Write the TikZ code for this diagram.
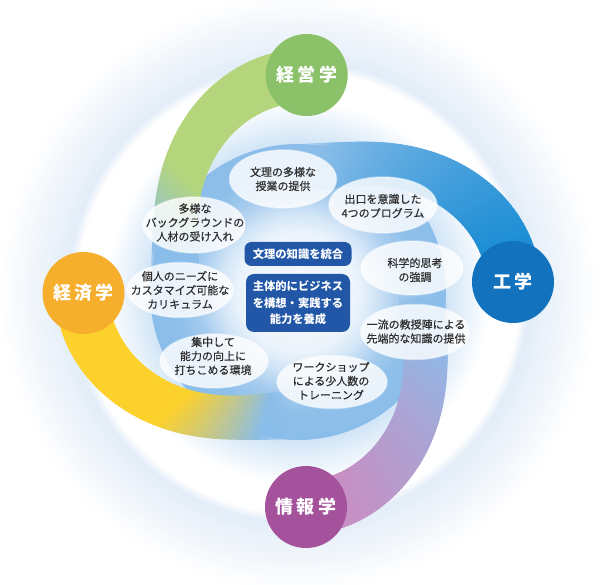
\documentclass[tikz,border=0pt]{standalone}
\usepackage{fontspec}
\newfontfamily\jp{Noto Sans CJK JP}
\newfontfamily\jpm{Noto Sans CJK JP}[FakeBold=0.5]
\usetikzlibrary{shapes.geometric}
\definecolor{gA}{HTML}{8BC168}
\definecolor{gB}{HTML}{B4D57C}
\definecolor{bA}{HTML}{1272BD}
\definecolor{bB}{HTML}{1B8DD4}
\definecolor{oA}{HTML}{F6AE2D}
\definecolor{oB}{HTML}{FDD12C}
\definecolor{pA}{HTML}{A4529C}
\definecolor{pB}{HTML}{C78FC3}
\definecolor{rb}{HTML}{8ABDE9}
\definecolor{boxc}{HTML}{2257A7}
\definecolor{txt}{HTML}{2E2E2E}
\definecolor{hz}{HTML}{D3E6F7}
\definecolor{glw}{HTML}{E3EDF8}
\definecolor{rc0}{HTML}{F4F8FD}
\definecolor{rc1}{HTML}{ECF4FB}
\definecolor{rc2}{HTML}{D2E5F7}
\definecolor{rc3}{HTML}{A6CCEE}
\definecolor{rc4}{HTML}{8FC0EA}
\pgfdeclareradialshading{bgshade}{\pgfpoint{0bp}{0bp}}{color(0bp)=(hz); color(12.5bp)=(hz); color(16bp)=(white); color(18.4bp)=(white); color(19.2bp)=(glw); color(25bp)=(white); color(50bp)=(white)}
\pgfdeclareradialshading{ringshade}{\pgfpoint{0bp}{0bp}}{color(0bp)=(rc0); color(10bp)=(rc1); color(13.2bp)=(rc2); color(16.9bp)=(rc3); color(20.3bp)=(rc4); color(25bp)=(rb); color(50bp)=(rb)}
\newcommand\armband[6]{%
\foreach \qi in {0,...,79}{%
  \pgfmathsetmacro\qta{\qi/80}%
  \pgfmathsetmacro\qtb{min(1,(\qi+1.6)/80)}%
  \pgfmathsetmacro\qtm{(\qi+0.5)/80}%
  \pgfmathsetmacro\qaa{#1+#6*\qta}%
  \pgfmathsetmacro\qab{#1+#6*\qtb}%
  \pgfmathsetmacro\qsa{3*\qta*\qta-2*\qta*\qta*\qta}%
  \pgfmathsetmacro\qsb{3*\qtb*\qtb-2*\qtb*\qtb*\qtb}%
  \pgfmathsetmacro\qroa{216-91*\qsa+27-3*\qta}%
  \pgfmathsetmacro\qria{216-91*\qsa-27+3*\qta}%
  \pgfmathsetmacro\qrob{216-91*\qsb+27-3*\qtb}%
  \pgfmathsetmacro\qrib{216-91*\qsb-27+3*\qtb}%
  \pgfmathsetmacro\qpc{100*max(0,min(1,(#5-\qtm)/(#5-#4)))}%
  \pgfmathsetmacro\qop{max(0,min(1,(1-\qtm)/0.14))}%
  \fill[fill={#2!\qpc!#3},fill opacity=\qop] (\qaa:\qroa) -- (\qab:\qrob) -- (\qab:\qrib) -- (\qaa:\qria) -- cycle;
}}
\tikzset{
  bubble/.style={ellipse, fill=white, fill opacity=0.82, draw=white, draw opacity=0.4, line width=1.5pt, inner sep=0pt},
  btxt/.style={font=\jpm\fontsize{11}{14}\selectfont, text=txt, align=center, inner sep=0pt},
  keybox/.style={fill=boxc, rounded corners=7pt, text=white, font=\jp\bfseries\fontsize{11.3}{16.5}\selectfont, align=center, inner sep=0pt},
  disc/.style={circle, minimum size=82pt, inner sep=0pt, text=white, font=\jp\bfseries\fontsize{18}{18}\selectfont}
}
\begin{document}
\begin{tikzpicture}[x=1pt,y=1pt]
\useasboundingbox (0,0) rectangle (600,584);
\fill[white] (0,0) rectangle (600,584);
\coordinate (O) at (298,292);
% background glow
\shade[shading=bgshade] (O) circle (300);
% ring and inner area
\shade[shading=ringshade] (O) circle (148);
% spiral arms
\begin{scope}[shift={(O)}]
\armband{87.7}{gB}{rb}{0.55}{0.86}{85}
\armband{180.3}{oB}{rb}{0.5}{0.88}{85}
\armband{272.1}{pB}{rb}{0.12}{0.85}{85}
\armband{2.7}{bB}{rb}{0.1}{0.92}{85}
\end{scope}
% bubbles
\node[bubble, minimum width=107pt, minimum height=58pt] (b1) at (283,405) {};
\node[bubble, minimum width=108pt, minimum height=56pt] (b2) at (383,379) {};
\node[bubble, minimum width=102pt, minimum height=56pt] (b3) at (194,359) {};
\node[bubble, minimum width=102pt, minimum height=54pt] (b4) at (412,316) {};
\node[bubble, minimum width=106pt, minimum height=55pt] (b5) at (180,294) {};
\node[bubble, minimum width=108pt, minimum height=54pt] (b6) at (214,223) {};
\node[bubble, minimum width=109pt, minimum height=55pt] (b7) at (415,252) {};
\node[bubble, minimum width=110pt, minimum height=53pt] (b8) at (332,202) {};
\node[btxt] (t1) at (283,405) {文理の多様な\\授業の提供};
\node[btxt] (t2) at (383,378) {出口を意識した\\4つのプログラム};
\node[btxt] (t3) at (195,361.5) {多様な\\バックグラウンドの\\人材の受け入れ};
\node[btxt] (t4) at (415,314) {科学的思考\\の強調};
\node[btxt] (t5) at (180,294) {個人のニーズに\\カスタマイズ可能な\\カリキュラム};
\node[btxt] (t6) at (213,228) {集中して\\能力の向上に\\打ちこめる環境};
\node[btxt] (t7) at (416,252.5) {一流の教授陣による\\先端的な知識の提供};
\node[btxt] (t8) at (331,203) {ワークショップ\\による少人数の\\トレーニング};
% central boxes
\node[keybox, minimum width=107pt, minimum height=24pt] (k1) at (298,330) {文理の知識を統合};
\node[keybox, minimum width=104pt, minimum height=58pt, rounded corners=8pt] (k2) at (298,281) {主体的にビジネス\\を構想・実践する\\能力を養成};
% discipline circles
\node[disc, fill=gA] (d1) at (306.7,509) {経\hspace{3.5pt}営\hspace{3.5pt}学};
\node[disc, fill=bA] (d2) at (513,302) {工\hspace{3.5pt}学};
\node[disc, fill=oA] (d3) at (83.5,291) {経\hspace{3.5pt}済\hspace{3.5pt}学};
\node[disc, fill=pA] (d4) at (306,77) {情\hspace{3.5pt}報\hspace{3.5pt}学};
\end{tikzpicture}
\end{document}
